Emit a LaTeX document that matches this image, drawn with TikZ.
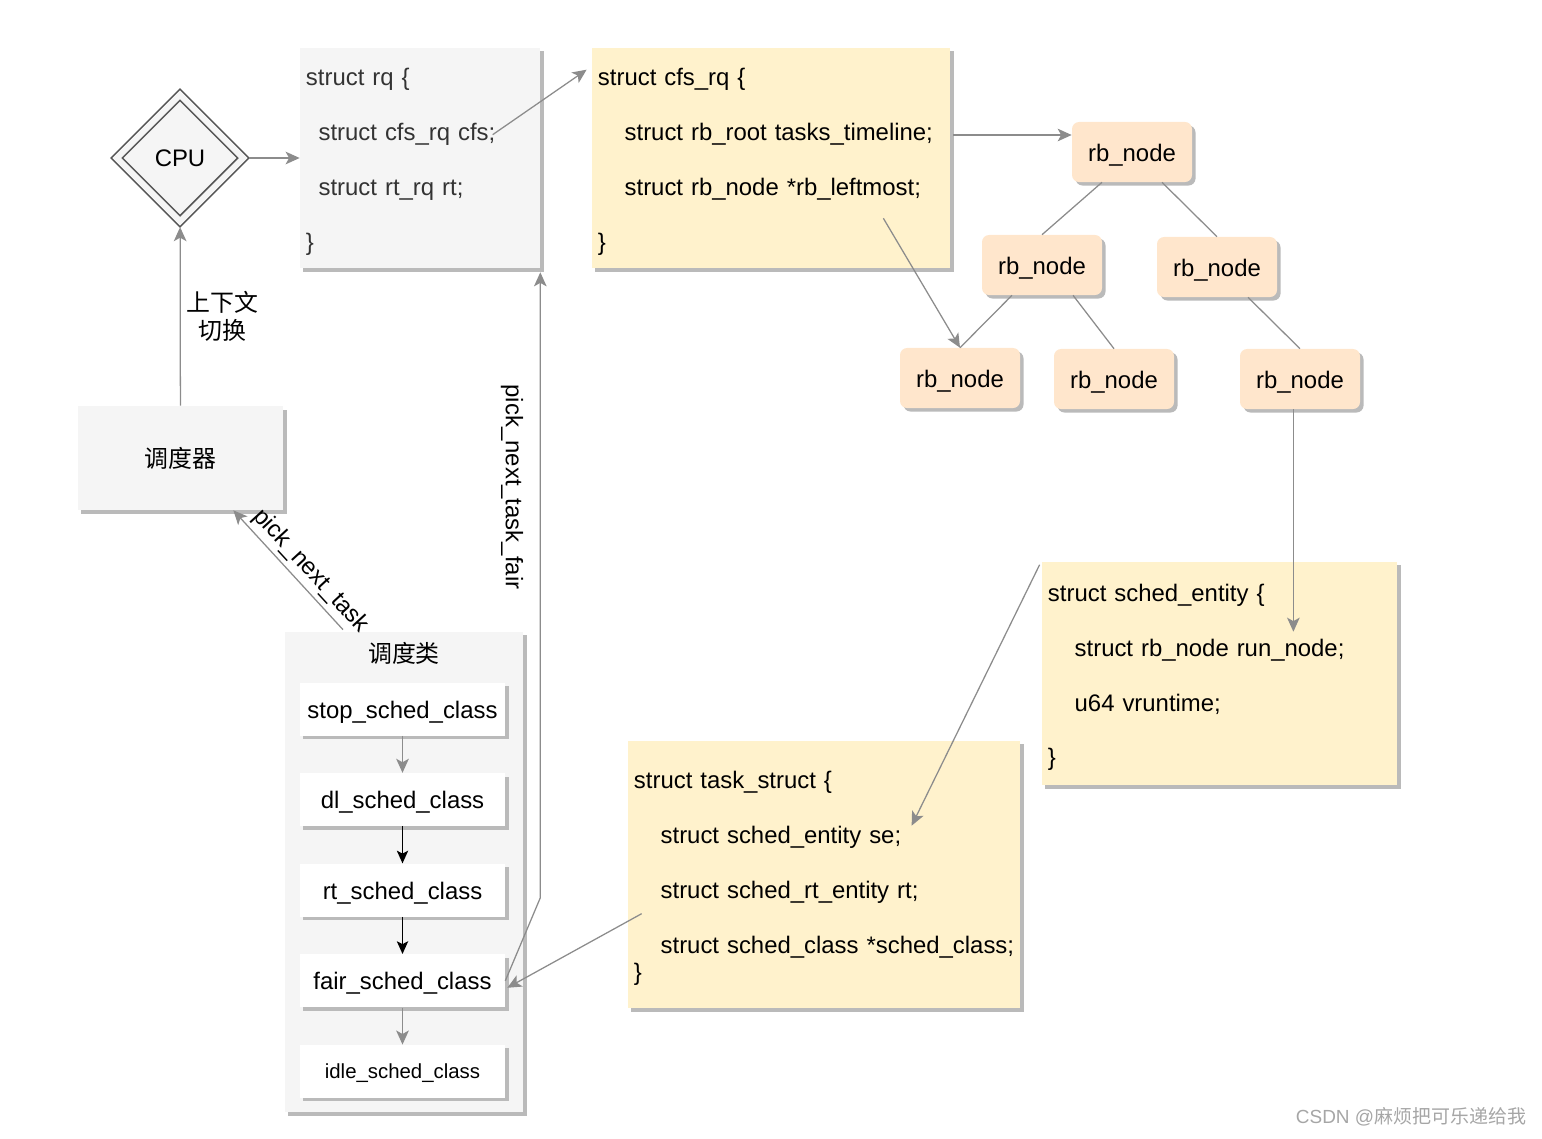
\documentclass[tikz,border=0pt]{standalone}
\usepackage{fontspec}
\setmainfont{Liberation Sans}
\newfontfamily\cjk{Noto Sans CJK SC}
\usetikzlibrary{shapes.geometric, arrows.meta, positioning, shadows, calc}
\definecolor{greyfill}{HTML}{F5F5F5}
\definecolor{yellowfill}{HTML}{FFF2CC}
\definecolor{peachfill}{HTML}{FFE6CC}
\definecolor{linegrey}{HTML}{8C8C8C}
\definecolor{cpuline}{HTML}{555555}
\definecolor{markgrey}{HTML}{A6A6A6}
\tikzset{
    shadowed/.style = {drop shadow={shadow xshift=2.5pt, shadow yshift=-2.5pt, fill=black!27, opacity=1}},
    cpu/.style = {diamond, aspect=1, draw=cpuline, line width=1.2pt, double=greyfill, double distance=4.3pt, fill=greyfill, minimum size=3.25cm, inner sep=0pt, outer sep=3pt},
    plain/.style = {rectangle, fill=greyfill, shadowed, inner sep=0pt},
    code/.style = {rectangle, shadowed, align=left, inner xsep=4.3pt, inner ysep=0pt, font=\fontsize{17}{39}\selectfont, execute at begin node=\rule{0pt}{18pt}},
    rb/.style = {rectangle, rounded corners=5pt, fill=peachfill, shadowed, minimum width=3cm, minimum height=1.5cm, text height=13.5pt, text depth=0pt},
    cls/.style = {rectangle, fill=white, shadowed, minimum width=5.125cm, minimum height=1.325cm, inner sep=0pt, text height=13pt, text depth=0pt},
    arr/.style = {-{Stealth[length=10pt, width=9pt, inset=2.5pt]}, draw=linegrey, line width=0.9pt},
    edge/.style = {-, draw=linegrey, line width=0.9pt},
    blk/.style = {-{Stealth[length=9pt, width=8pt, inset=2pt]}, draw=black, line width=1.1pt}
}
\begin{document}
\begin{tikzpicture}[x=0.025cm, y=-0.025cm, font=\fontsize{17}{20}\selectfont]
    \useasboundingbox (0,0) rectangle (1542,1138);
    \def\classsep{0.925cm}

    \node (cpu) [cpu] at (180,158) {CPU};
    \node (sched) [plain, minimum width=5.125cm, minimum height=2.6cm] at (180.5,458) {\cjk 调度器};

    \node (rq) [code, fill=greyfill, text=black!80, text width=5.7cm, minimum height=5.5cm] at (420,158)
        {struct rq \{\\\hspace*{9pt}struct cfs\_rq cfs;\\\hspace*{9pt}struct rt\_rq rt;\\\}};
    \node (cfsrq) [code, fill=yellowfill, text width=8.65cm, minimum height=5.5cm] at (771,158)
        {struct cfs\_rq \{\\\hspace*{19pt}struct rb\_root tasks\_timeline;\\\hspace*{19pt}struct rb\_node *rb\_leftmost;\\\}};

    % red-black tree
    \node (root) [rb] at (1132,152) {rb\_node};
    \node (l)    [rb] at (1042,265) {rb\_node};
    \node (r)    [rb] at (1217,267) {rb\_node};
    \node (ll)   [rb] at (960,378)  {rb\_node};
    \node (lr)   [rb] at (1114,379) {rb\_node};
    \node (rr)   [rb] at (1300,379) {rb\_node};

    \node (se) [code, fill=yellowfill, text width=8.575cm, minimum height=5.575cm] at (1219.5,673.5)
        {struct sched\_entity \{\\\hspace*{19pt}struct rb\_node run\_node;\\\hspace*{19pt}u64 vruntime;\\\}};
    \node (task) [code, fill=yellowfill, text width=9.5cm, minimum height=6.675cm] at (824,874.5)
        {struct task\_struct \{\\\hspace*{19pt}struct sched\_entity se;\\\hspace*{19pt}struct sched\_rt\_entity rt;\\\mbox{\hspace*{19pt}struct sched\_class *sched\_class;}\\[-19.9pt]\}};

    % scheduling classes
    \node (classes) [plain, minimum width=5.95cm, minimum height=12cm] at (404,872) {};
    \node (classtitle) [below=4pt] at (classes.north) {\cjk 调度类};
    \node (stop) [cls] at (402.5,709) {stop\_sched\_class};
    \node (dl)   [cls, below=\classsep of stop] {dl\_sched\_class};
    \node (rt)   [cls, below=\classsep of dl]   {rt\_sched\_class};
    \node (fair) [cls, below=\classsep of rt]   {fair\_sched\_class};
    \node (idle) [cls, below=\classsep of fair, text height=10pt, font=\fontsize{14.5}{17}\selectfont] {idle\_sched\_class};

    \coordinate (cfsfield) at ($(rq.north west)+(193,87)$);
    \coordinate (cfstop) at ($(cfsrq.north west)+(-5,22)$);
    \coordinate (timeline) at ($(cfsrq.east)+(3,-23)$);
    \coordinate (leftmost) at ($(cfsrq.south east)+(-67,-50)$);
    \coordinate (runnode) at ($(se.north east)+(-104,70)$);
    \coordinate (secorner) at ($(se.north west)+(-2,3)$);
    \coordinate (sefield) at ($(task.north west)+(284,85)$);
    \coordinate (classfield) at ($(task.north west)+(14,173)$);
    \coordinate (bend) at ($(fair.east)+(35,-83)$);

    \draw[arr] (cpu) -- (rq.west);
    \draw[arr] (sched) -- node[right=1pt, align=center, font=\fontsize{17}{20}\selectfont\cjk] {上下文\\切换} (cpu);
    \draw[arr] (cfsfield) -- (cfstop);
    \draw[arr] (timeline) -- (timeline -| root.west);
    \draw[edge] ($(root.south)+(-30,0)$) -- (l.north);
    \draw[edge] ($(root.south)+(30,0)$) -- (r.north);
    \draw[edge] ($(l.south)+(-30,0)$) -- (ll.north);
    \draw[edge] ($(l.south)+(31,0)$) -- (lr.north);
    \draw[edge] ($(r.south)+(31,0)$) -- (rr.north);
    \draw[arr] (leftmost) -- (ll.north);
    \draw[arr] (rr.south -| runnode) -- (runnode);
    \draw[arr] (secorner) -- (sefield);
    \draw[arr] (classfield) -- ($(fair.east)+(2,7)$);
    \draw[arr] (fair.east) -- (bend) -- ($(bend |- rq.south)+(0,4)$);
    \draw[arr] ($(classes.north)+(-61,-2)$) -- node[pos=0.4, sloped, above=2pt, inner sep=1pt] {pick\_next\_task} ($(sched.south east)+(-50,0)$);
    \node (fairlabel) [rotate=-90] at (512,487) {pick\_next\_task\_fair};

    \draw[arr] (stop) -- (dl);
    \draw[blk] (dl) -- (rt);
    \draw[blk] (rt) -- (fair);
    \draw[arr] (fair) -- (idle);

    \node (mark) [text=markgrey, font=\fontsize{13.5}{16}\selectfont] at (1411,1117) {CSDN @{\cjk 麻烦把可乐递给我}};
\end{tikzpicture}
\end{document}
